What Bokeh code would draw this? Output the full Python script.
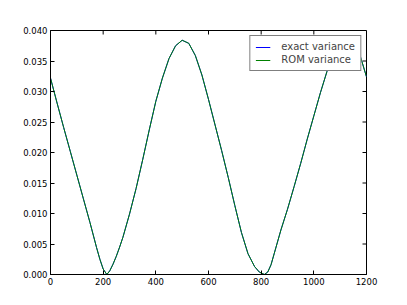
import math
from bokeh.plotting import figure
from bokeh.models import (LinearAxis, FixedTicker, NumeralTickFormatter, Range1d,
                          Legend, LegendItem, ColumnDataSource)
from bokeh.embed import file_html
from bokeh.resources import INLINE

# Data
time = [0, 25, 50, 75, 100, 125, 150, 175, 187.5, 200, 214, 225, 237.5, 250, 262.5,
        275, 300, 325, 350, 375, 400, 425, 450, 475, 500, 525, 550, 575, 600, 625,
        650, 675, 700, 725, 750, 775, 793, 812, 825, 837.5, 850, 875, 900, 925, 950,
        975, 1000, 1025, 1050, 1075, 1100, 1125, 1150, 1175, 1200]
variance_exact = [0.0322, 0.0281, 0.0241, 0.0202, 0.0163, 0.0124, 0.0085, 0.0044,
                  0.0025, 0.0009, 0.0, 0.0006, 0.0017, 0.0030, 0.0045,
                  0.0061, 0.0099, 0.0141, 0.0188, 0.0237, 0.0284, 0.0322, 0.0354,
                  0.0375, 0.0384, 0.0379, 0.0359, 0.0327, 0.0287, 0.0245,
                  0.0203, 0.0159, 0.0113, 0.0069, 0.0034, 0.0013, 0.0004, 0.0,
                  0.0004, 0.0016, 0.0035, 0.0073, 0.0107, 0.0144, 0.0182,
                  0.0222, 0.0260, 0.0298, 0.0333, 0.0360, 0.0377, 0.0383, 0.0377,
                  0.0360, 0.0324]
variance_rom = [0.0322, 0.0281, 0.0241, 0.0202, 0.0163, 0.0124, 0.0085, 0.0044,
                0.0025, 0.0009, 0.0, 0.0006, 0.0017, 0.0030, 0.0045,
                0.0061, 0.0099, 0.0141, 0.0188, 0.0237, 0.0284, 0.0322, 0.0354,
                0.0375, 0.0384, 0.0379, 0.0359, 0.0327, 0.0287, 0.0245,
                0.0203, 0.0159, 0.0113, 0.0069, 0.0034, 0.0013, 0.0004, 0.0,
                0.0004, 0.0016, 0.0035, 0.0073, 0.0107, 0.0144, 0.0182,
                0.0222, 0.0260, 0.0298, 0.0333, 0.0360, 0.0377, 0.0383, 0.0377,
                0.0360, 0.0324]
x_ticks = [0, 200, 400, 600, 800, 1000, 1200]
y_ticks = [0.0, 0.005, 0.010, 0.015, 0.020, 0.025, 0.030, 0.035, 0.040]
labels = ["exact variance", "ROM variance"]

FONT = "DejaVu Sans"
X0, X1 = 0, 1200
Y0, Y1 = 0.0, 0.04

p = figure(width=407, height=305, output_backend="svg", toolbar_location=None,
           x_range=Range1d(X0, X1), y_range=Range1d(Y0, Y1),
           min_border_left=50, min_border_right=41, min_border_top=30, min_border_bottom=31,
           x_axis_location=None, y_axis_location=None)
p.xgrid.visible = False
p.ygrid.visible = False
p.outline_line_color = "black"
p.outline_line_width = 1
p.background_fill_color = "white"
p.border_fill_color = "white"

def style(ax, ticks):
    ax.ticker = FixedTicker(ticks=ticks)
    ax.major_tick_in = 4
    ax.major_tick_out = 0
    ax.minor_tick_line_color = None
    ax.axis_line_color = "black"
    ax.major_tick_line_color = "black"
    ax.major_label_text_font = FONT
    ax.major_label_text_color = "black"
    ax.major_label_text_font_size = "8.5px"
    ax.major_label_standoff = 3

bottom = LinearAxis()
style(bottom, x_ticks)
left = LinearAxis(formatter=NumeralTickFormatter(format="0.000"))
style(left, y_ticks)
p.add_layout(bottom, "below")
p.add_layout(left, "left")

# inward ticks on the top and right spines (matplotlib style)
p.ray(x=x_ticks, y=[Y1] * len(x_ticks), length=4, length_units="screen",
      angle=-math.pi / 2, line_color="black", line_width=1)
p.ray(x=[X1] * len(y_ticks), y=y_ticks, length=4, length_units="screen",
      angle=math.pi, line_color="black", line_width=1)

src = ColumnDataSource(dict(t=time, ex=variance_exact, rom=variance_rom))
r1 = p.line("t", "ex", source=src, line_color="#0000ff", line_width=1)
r2 = p.line("t", "rom", source=src, line_color="#008000", line_width=1)

legend = Legend(items=[LegendItem(label=labels[0], renderers=[r1]),
                       LegendItem(label=labels[1], renderers=[r2])],
                location="top_right", margin=5, padding=5, spacing=2,
                label_text_font=FONT, label_text_font_size="10px",
                label_height=10, glyph_height=10, glyph_width=15, label_standoff=11,
                border_line_color="black", border_line_width=1,
                background_fill_color="white", background_fill_alpha=1)
p.add_layout(legend, "center")

open("out.html", "w").write(file_html(p, INLINE))
